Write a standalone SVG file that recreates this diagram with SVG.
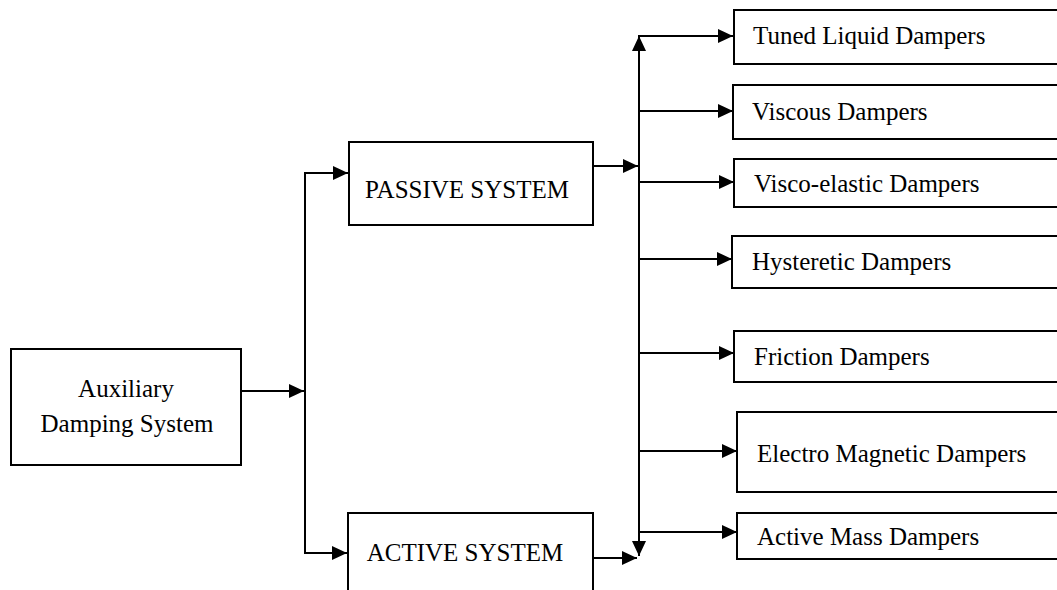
<svg xmlns="http://www.w3.org/2000/svg" width="1057" height="590" viewBox="0 0 1057 590">
<style>
.box{fill:#fff;stroke:#000;stroke-width:2}
.t{font-family:"Liberation Serif","Times New Roman",serif;font-size:25px;fill:#000}
.c{fill:none;stroke:#000;stroke-width:2}
</style>
<defs>
<marker id="ah" markerUnits="userSpaceOnUse" markerWidth="16" markerHeight="14" refX="15" refY="7" orient="auto">
<path d="M0,0 L15,7 L0,14 z" fill="#000"/>
</marker>
</defs>
<rect width="1057" height="590" fill="#fff"/>
<g id="connectors">
<line class="c" x1="241" y1="391" x2="304" y2="391" marker-end="url(#ah)"/>
<line class="c" x1="305" y1="172" x2="305" y2="554"/>
<line class="c" x1="304" y1="173" x2="348" y2="173" marker-end="url(#ah)"/>
<line class="c" x1="304" y1="553" x2="347" y2="553" marker-end="url(#ah)"/>
<line class="c" x1="593" y1="166" x2="638" y2="166" marker-end="url(#ah)"/>
<line class="c" x1="593" y1="558" x2="637" y2="558" marker-end="url(#ah)"/>
<line class="c" x1="639" y1="200" x2="639" y2="36" marker-end="url(#ah)"/>
<line class="c" x1="639" y1="200" x2="639" y2="556" marker-end="url(#ah)"/>
<line class="c" x1="638" y1="36" x2="733" y2="36" marker-end="url(#ah)"/>
<line class="c" x1="639" y1="111" x2="733" y2="111" marker-end="url(#ah)"/>
<line class="c" x1="639" y1="182" x2="734" y2="182" marker-end="url(#ah)"/>
<line class="c" x1="639" y1="259" x2="732" y2="259" marker-end="url(#ah)"/>
<line class="c" x1="639" y1="353" x2="734" y2="353" marker-end="url(#ah)"/>
<line class="c" x1="639" y1="451" x2="737" y2="451" marker-end="url(#ah)"/>
<line class="c" x1="639" y1="532" x2="737" y2="532" marker-end="url(#ah)"/>
</g>
<g id="aux"><rect class="box" x="11" y="349" width="230" height="116"/>
<text class="t" x="126" y="397" text-anchor="middle">Auxiliary</text>
<text class="t" x="127" y="432" text-anchor="middle">Damping System</text></g>
<g id="passive"><rect class="box" x="349" y="142" width="244" height="83"/>
<text class="t" x="467" y="198" text-anchor="middle">PASSIVE SYSTEM</text></g>
<g id="active"><rect class="box" x="348" y="513" width="245" height="90"/>
<text class="t" x="465" y="561" text-anchor="middle">ACTIVE SYSTEM</text></g>
<g id="tuned"><rect class="box" x="734" y="10" width="340" height="54"/>
<text class="t" x="753" y="44">Tuned Liquid Dampers</text></g>
<g id="viscous"><rect class="box" x="733" y="85" width="340" height="54"/>
<text class="t" x="752" y="120">Viscous Dampers</text></g>
<g id="viscoelastic"><rect class="box" x="734" y="159" width="340" height="48"/>
<text class="t" x="754" y="192">Visco-elastic Dampers</text></g>
<g id="hysteretic"><rect class="box" x="732" y="236" width="340" height="52"/>
<text class="t" x="752" y="270">Hysteretic Dampers</text></g>
<g id="friction"><rect class="box" x="734" y="331" width="340" height="51"/>
<text class="t" x="754" y="365">Friction Dampers</text></g>
<g id="electro"><rect class="box" x="737" y="412" width="340" height="80"/>
<text class="t" x="757" y="462">Electro Magnetic Dampers</text></g>
<g id="activemass"><rect class="box" x="737" y="513" width="340" height="46"/>
<text class="t" x="757" y="545">Active Mass Dampers</text></g>
</svg>
